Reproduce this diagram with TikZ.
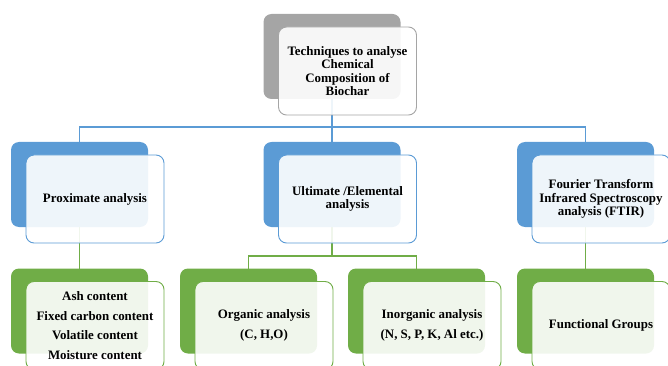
\documentclass[tikz,border=0pt]{standalone}
\usepackage{fontspec}
\setmainfont{Liberation Serif}
\usepackage{xcolor}
\definecolor{Office Blue}{HTML}{5B9BD5}
\definecolor{Office Green}{HTML}{70AD47}
\definecolor{Office Gray}{HTML}{A5A5A5}
\colorlet{cBlue}{Office Blue}
\colorlet{cGreen}{Office Green}
\colorlet{cGray}{Office Gray}
\usepackage{tikz}
\usetikzlibrary{positioning, backgrounds}
\tikzset{
	x=1pt,
	y=-1pt,
	back box/.style={
		rectangle,
		rounded corners=8pt,
		minimum width=137pt,
		minimum height=85pt,
		outer sep=0pt,
		inner sep=0pt
	},
	front box/.style={
		rectangle,
		draw,
		rounded corners=8pt,
		minimum width=138pt,
		minimum height=88pt,
		outer sep=0pt,
		inner sep=2pt,
		line width=.9pt,
		fill=white,
		fill opacity=.9,
		text opacity=1,
		align=center,
		font=\bfseries\fontsize{12.9}{13.5}\selectfont
	},
	wide lines/.style={
		font=\bfseries\fontsize{12.9}{19.5}\selectfont
	},
	link/.style={
		line width=1.1pt
	}
}

\begin{document}
\begin{tikzpicture}
\clip (0,0) rectangle (668,366);

% ---
% Top box
% ---
\node[back box, fill=cGray] (b0) at (332,56.5) {};
\node[front box, draw=cGray, below right=13pt and 15pt of b0.north west] (f0)
	{Techniques to analyse\\Chemical\\Composition of\\Biochar};

% ---
% Analysis boxes
% ---
\node[back box, fill=cBlue] (b1) at (79.5,184.5) {};
\node[front box, draw=cBlue, below right=13pt and 15pt of b1.north west] (f1)
	{Proximate analysis};
\node[back box, fill=cBlue] (b2) at (332,184.5) {};
\node[front box, draw=cBlue, below right=13pt and 15pt of b2.north west] (f2)
	{Ultimate /Elemental\\analysis};
\node[back box, fill=cBlue] (b3) at (585.5,184.5) {};
\node[front box, draw=cBlue, below right=13pt and 15pt of b3.north west] (f3)
	{Fourier Transform\\Infrared Spectroscopy\\analysis (FTIR)};

% ---
% Result boxes
% ---
\node[back box, fill=cGreen] (b4) at (79.5,311) {};
\node[front box, wide lines, draw=cGreen, below right=13pt and 15pt of b4.north west] (f4)
	{Ash content\\Fixed carbon content\\Volatile content\\Moisture content};
\node[back box, fill=cGreen] (b5) at (248.5,311) {};
\node[front box, wide lines, draw=cGreen, below right=13pt and 15pt of b5.north west] (f5)
	{Organic analysis\\(C, H,O)};
\node[back box, fill=cGreen] (b6) at (416.5,311) {};
\node[front box, wide lines, draw=cGreen, below right=13pt and 15pt of b6.north west] (f6)
	{Inorganic analysis\\(N, S, P, K, Al etc.)};
\node[back box, fill=cGreen] (b7) at (585.5,311) {};
\node[front box, draw=cGreen, below right=13pt and 15pt of b7.north west] (f7)
	{Functional Groups};

% ---
% Connectors
% ---
\coordinate (bus1) at (0,127);
\coordinate (bus2) at (0,256);
\begin{scope}[on background layer]
	\draw[link, cBlue] (b0) -- (b2);
	\draw[link, cBlue] (b1) |- (b0 |- bus1) -| (b3);
	\draw[link, cGreen] (b1) -- (b4);
	\draw[link, cGreen] (b2) -- (b2 |- bus2);
	\draw[link, cGreen] (b5) |- (b2 |- bus2) -| (b6);
	\draw[link, cGreen] (b3) -- (b7);
\end{scope}
\end{tikzpicture}
\end{document}
